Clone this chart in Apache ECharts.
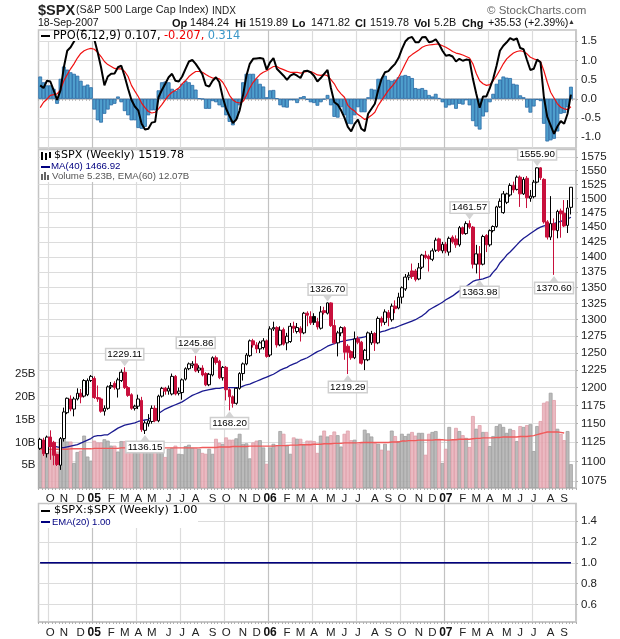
<!DOCTYPE html>
<html><head><meta charset="utf-8">
<style>html,body{margin:0;padding:0;background:#fff}#c{width:620px;height:639px}</style>
<script src="https://cdn.jsdelivr.net/npm/echarts@6/dist/echarts.min.js"></script>
</head><body><div id="c"></div>
<script>
// Weekly candles: [open, close, low, high]
const candles=[
[1117,1129,1115,1131],[1128,1110,1107,1131],[1110,1132,1105,1134],[1132,1119,1102,1141],[1125,1108,1095,1127],[1109,1096,1094,1110],[1095,1130,1089,1132],[1130,1166,1126,1172],[1165,1185,1163,1186],[1184,1170,1167,1189],
[1170,1184,1160,1187],[1184,1192,1182,1199],[1192,1187,1178,1198],[1188,1210,1186,1212],[1190,1210,1188,1213],[1210,1216,1208,1218],[1213,1186,1184,1216],[1186,1184,1180,1203],[1184,1167,1165,1186],[1167,1171,1161,1175],
[1171,1201,1169,1203],[1201,1203,1198,1208],[1206,1200,1197,1209],[1198,1211,1186,1214],[1210,1222,1208,1226],[1222,1200,1198,1229.11],[1200,1189,1187,1202],[1190,1171,1169,1192],[1171,1174,1168,1176],[1174,1184,1170,1190],
[1182,1142,1139,1187],[1141,1151,1136.15,1154],[1150,1154,1146,1163],[1153,1171,1150,1175],[1171,1154,1152,1175],[1154,1188,1152,1190],[1188,1199,1186,1201],[1199,1195,1190,1201],[1195,1199,1190,1203],[1191,1216,1189,1220],
[1216,1191,1189,1218],[1192,1195,1189,1200],[1193,1211,1183,1213],[1212,1227,1210,1229],[1227,1234,1225,1236],[1232,1234,1228,1238],[1234,1224,1222,1245.86],[1225,1228,1221,1232],[1228,1218,1216,1232],[1220,1204,1202,1222],
[1204,1219,1202,1221],[1218,1243,1216,1245],[1243,1236,1233,1246],[1238,1214,1212,1240],[1214,1229,1210,1231],[1229,1197,1182,1231],[1197,1187,1168.2,1199],[1187,1178,1172,1189],[1178,1199,1176,1200],[1199,1220,1197,1222],
[1220,1234,1210,1236],[1234,1247,1232,1250],[1246,1268,1244,1270],[1268,1262,1258,1271],[1262,1256,1250,1266],[1256,1265,1250,1268],[1258,1268,1255,1272],[1268,1245,1243,1270],[1247,1286,1244,1290],[1286,1288,1283,1297],
[1288,1262,1258,1290],[1262,1284,1260,1290],[1285,1263,1261,1288],[1265,1275,1254,1280],[1267,1290,1265,1295],[1290,1287,1280,1297],[1282,1288,1279,1295],[1287,1280,1267,1290],[1280,1310,1278,1312],[1310,1307,1290,1313],
[1305,1295,1292,1313],[1305,1296,1292,1310],[1297,1289,1285,1303],[1287,1312,1285,1321],[1314,1311,1308,1320],[1310,1326,1308,1326.7],[1326,1291,1289,1327],[1291,1265,1263,1300],[1265,1280,1245,1283],[1280,1288,1275,1290],
[1288,1251,1240,1290],[1260,1251,1219.29,1263],[1252,1243,1240,1254],[1243,1271,1241,1282],[1271,1266,1263,1275],[1266,1235,1233,1268],[1240,1254,1225,1256],[1240,1280,1238,1282],[1265,1279,1262,1283],[1279,1265,1253,1281],
[1265,1302,1263,1305],[1302,1296,1290,1305],[1296,1312,1292,1316],[1311,1303,1290,1315],[1300,1321,1297,1325],[1321,1317,1310,1330],[1318,1335,1316,1342],[1335,1350,1325,1352],[1348,1367,1345,1372],[1367,1370,1362,1375],
[1377,1368,1364,1389],[1377,1363,1360,1380],[1364,1382,1362,1390],[1383,1403,1380,1405],[1403,1399,1396,1410],[1401,1397,1376,1404],[1396,1410,1393,1414],[1411,1428,1408,1432],[1430,1411,1408,1432],[1410,1421,1406,1425],
[1421,1410,1406,1425],[1408,1431,1402,1434],[1433,1425,1422,1436],[1430,1420,1415,1436],[1420,1449,1417,1452],[1449,1439,1437,1451],[1439,1456,1437,1460],[1456,1450,1447,1461.57],[1450,1388,1381,1452],[1388,1405,1373,1420],
[1405,1388,1363.98,1418],[1388,1434,1386,1437],[1436,1420,1408,1438],[1420,1444,1417,1446],[1444,1451,1441,1453],[1451,1485,1449,1487],[1485,1495,1483,1500],[1475,1508,1473,1513],[1493,1508,1490,1510],[1506,1523,1503,1527],
[1523,1515,1510,1530],[1516,1538,1514,1541],[1538,1508,1485,1541],[1508,1534,1506,1538],[1536,1501,1483,1540],[1500,1504,1494,1515],[1503,1529,1500,1533],[1529,1555,1527,1555.9],[1555,1537,1533,1556],[1534,1459,1456,1536],
[1459,1433,1429,1462],[1433,1456,1428,1504],[1456,1445,1370.6,1465],[1444,1477,1431,1480],[1478,1473,1432,1482],[1474,1452,1450,1497],[1453,1483,1440,1497],[1484.24,1519.78,1471.82,1519.89]];
const filledBlack=[81];
// Volume in billions of shares
const volume=[10.4,9.3,8.2,8.6,7.9,8,10.8,10.8,10.2,10.2,5.5,7.9,8.2,11.5,6.9,6,10.4,10,10,10.7,10.4,9.3,9.3,8,10.3,10.3,10.2,8.4,7.8,8.3,9.8,9.5,9.5,9.2,9.6,9.2,8.2,6.8,8.6,8.8,9.3,7.5,7.4,9.2,9.5,8.8,8.8,8.6,
7.7,7.5,8.6,7.5,10.8,9.9,9.7,11.1,10.6,10.6,10.9,11.9,9.7,9.8,6.5,10,10.4,10.5,8.9,5.3,8.9,9.7,9.3,12.5,11.9,9.5,7.5,11.1,10.8,10.8,9.7,10.4,10.4,10.3,7.7,11.5,12.6,11.3,11.6,12.4,11.6,9.1,11.9,12.6,10.5,10.6,9.7,9.9,12.8,12,11.3,9.9,9.7,8.4,9.7,8.2,12.6,11.4,10.3,
11.9,11.4,11.9,12.3,11.5,12.1,12.1,7.3,11.9,12.3,12.5,10.8,5.5,8.6,13.4,10.6,13.2,12.5,11.6,11,9,15.8,13,13.8,12.3,12.3,9.2,11.4,13.6,14,13.4,12.1,13,12.7,10.3,13.6,13.4,13.8,14,8.1,13.6,14.7,18.7,19,20.9,19.3,13,11.9,10.5,12.5,5.23];
const volumeEma=[8.5,8.5,8.5,8.5,8.5,8.5,8.5,8.5,8.5,8.6,8.6,8.6,8.6,8.6,8.6,8.6,8.7,8.7,8.7,8.7,8.7,8.7,8.7,8.7,8.8,8.8,8.8,8.8,8.8,8.8,8.8,8.8,8.8,8.8,8.8,8.8,8.8,8.8,8.8,8.8,8.8,8.8,8.8,8.8,8.8,8.8,8.8,8.8,8.9,8.9,8.9,8.9,8.9,9,9,9,9,9.1,9.1,9.1,9.1,9.1,9.2,9.2,9.2,9.2,9.2,9.2,9.2,9.2,9.3,9.3,9.3,9.3,9.4,9.4,9.4,9.5,9.5,9.5,9.5,9.6,9.6,9.6,9.7,9.7,9.7,9.8,9.8,9.8,9.9,9.9,9.9,9.9,9.9,10,10,10,10,10,10,10,10,10,10.1,10.1,10.1,10.3,10.3,10.4,10.4,10.4,10.5,10.5,10.5,10.5,10.5,10.6,10.6,10.6,10.5,10.5,10.6,10.6,10.7,10.7,10.7,10.7,10.8,10.9,10.9,11,11,11,11,11.1,11.1,11.2,11.2,11.2,11.2,11.2,11.3,11.3,11.3,11.4,11.5,11.7,11.9,12.1,12.3,12.3,12.3,12.3,12.2,12.07];
const ma40=[1119,1119,1120,1120,1120,1119,1118,1118,1119,1120,1121,1122,1124,1126,1128,1130,1133,1134,1134,1135,1135,1138,1141,1144,1146,1148,1149,1150,1151,1153,1154,1155,1156,1159,1161,1164,1167,1170,1172,1174,1176,1178,1180,1183,1186,1189,1191,1193,1195,1196,1197,1198,1199,1199,1200,1200,1200,1200,1200,1200,1202,1204,1205,1207,1209,1211,1213,1215,1217,1219,1222,1225,1227,1229,1232,1234,1236,1239,1241,1243,1246,1249,1252,1254,1257,1260,1262,1264,1266,1267,1268,1269,1270,1271,1272,1273,1274,1276,1277,1278,1280,1282,1283,1285,1287,1288,1290,
1292,1294,1296,1298,1300,1303,1306,1310,1315,1318,1321,1324,1327,1331,1334,1337,1341,1345,1349,1352,1356,1360,1362,1363,1364,1366,1368,1375,1381,1390,1396,1403,1408,1414,1420,1426,1431,1435,1439,1443,1447,1450,1452,1453,1454,1456,1458,1460,1462,1464,1466.92];
// PPO panel
const ppo=[.35,.28,.47,.45,.22,-.03,.22,.82,1.25,1.34,1.49,1.64,1.75,1.78,1.73,1.77,1.55,1.21,.82,.35,.58,.65,.66,.82,.86,.58,.26,-.03,-.2,-.3,-.65,-.8,-.78,-.62,-.6,.04,.23,.39,.56,.65,.47,.45,.58,.78,.97,1.01,.91,.78,.63,.35,.32,.47,.56,.43,.04,-.26,-.45,-.63,-.54,-.3,.09,.6,.91,1.04,1.05,1.06,1.04,.76,.95,1.06,.78,.69,.6,.49,.6,.65,.6,.54,.72,.73,
.69,.6,.45,.54,.65,.75,.28,-.09,-.15,-.3,-.49,-.73,-.85,-.65,-.54,-.78,-.84,-.39,-.26,-.13,.23,.52,.69,.72,.82,.91,1.06,1.29,1.49,1.58,1.61,1.47,1.47,1.6,1.61,1.47,1.49,1.55,1.42,1.25,1.12,1.14,1.1,.97,1.04,.99,1.02,1.01,.52,.13,-.23,.06,.06,.28,.52,.86,1.25,1.38,1.47,1.58,1.53,1.57,1.32,1.29,1.01,.75,.78,1.02,.95,.04,-.47,-.69,-.91,-.72,-.58,-.65,-.39,.107];
const ppoSignal=[-.23,-.09,-.01,.09,.11,.13,.23,.47,.63,.78,.91,1.06,1.18,1.25,1.29,1.31,1.29,1.21,1.1,.97,.89,.84,.79,.78,.78,.71,.58,.35,.2,.06,-.11,-.23,-.33,-.37,-.35,-.26,-.15,-.03,.09,.17,.22,.28,.39,.47,.58,.65,.71,.71,.69,.63,.58,.54,.54,.52,.43,.28,.09,-.03,-.09,-.11,-.07,.09,.28,.43,.54,.63,.69,.73,.79,.84,.84,.79,.76,.72,.69,.69,.69,.67,.69,.71,
.71,.67,.62,.61,.63,.6,.5,.39,.23,.13,.04,-.17,-.26,-.32,-.41,-.47,-.54,-.49,-.43,-.35,-.17,-.04,.09,.22,.32,.43,.56,.73,.91,1.08,1.15,1.21,1.27,1.34,1.38,1.4,1.41,1.42,1.42,1.38,1.34,1.29,1.23,1.19,1.17,1.14,1.1,1.06,.91,.66,.47,.39,.35,.37,.47,.6,.75,.91,1.04,1.12,1.19,1.23,1.25,1.23,1.17,1.08,1.04,1.01,.97,.73,.43,.17,.02,-.13,-.22,-.26,-.28,-.207];
const ppoHist=[.58,.43,.35,.35,.26,-.13,.52,.84,.76,.69,.65,.6,.47,.34,.37,.3,-.28,-.56,-.62,-.39,-.28,-.17,-.13,.06,-.09,-.32,-.43,-.56,-.56,-.76,-.78,-.73,-.43,-.3,-.3,.22,.43,.45,.43,.26,.2,.26,.39,.47,.43,.36,.24,.01,-.01,-.26,-.26,-.06,-.09,-.17,-.22,-.43,-.6,-.69,-.52,-.17,.43,.65,.65,.65,.52,.39,.32,.04,.22,.23,.01,-.17,-.22,-.23,-.04,-.04,-.11,.04,.07,-.03,
-.09,-.11,-.18,-.09,-.02,.1,-.17,-.47,-.49,-.22,-.43,-.65,-.66,-.43,-.22,-.35,-.35,.04,.26,.24,.52,.52,.6,.49,.47,.5,.56,.6,.62,.59,.54,.28,.26,.28,.23,.1,.06,.13,.02,-.09,-.23,-.17,-.15,-.26,-.13,-.15,-.04,-.17,-.58,-.72,-.8,-.46,-.35,-.09,.13,.39,.5,.58,.55,.54,.39,.37,.09,.04,-.23,-.36,-.2,-.03,-.06,-.65,-1.11,-1.08,-1.04,-.85,-.39,-.37,-.22,.314];
// Ratio panel: the index against itself, and its EMA
const ratio=[1,1,1,1,1,1,1,1,1,1,1,1,1,1,1,1,1,1,1,1,1,1,1,1,1,1,1,1,1,1,1,1,1,1,1,1,1,1,1,1,1,1,1,1,1,1,1,1,1,1,1,1,1,1,1,1,1,1,1,1,1,1,1,1,1,1,1,1,1,1,1,1,1,1,1,1,1,1,1,1,1,1,1,1,1,1,1,1,1,1,1,1,1,1,1,1,1,1,1,1,1,1,1,1,1,1,1,1,1,1,1,1,1,1,1,1,1,1,1,1,1,1,1,1,1,1,1,1,1,1,1,1,1,1,1,1,1,1,1,1,1,1,1,1,1,1,1,1,1,1,1,1,1,1,1,1,1,1];
// Axes
const tickIndex=[3,7,12,16,21,25,29,33,38,42,46,51,55,60,64,68,73,77,81,86,90,94,99,103,107,112,116,120,125,129,133,138,142,146,151,155];
const tickText=['O','N','D','05','F','M','A','M','J','J','A','S','O','N','D','06','F','M','A','M','J','J','A','S','O','N','D','07','F','M','A','M','J','J','A','S'];
const gridIndex=[3,16,29,42,55,68,81,94,107,120,133,146];
const gridColors=['#dcdcdc','#c2c2c2','#dcdcdc','#dcdcdc','#dcdcdc','#c2c2c2','#dcdcdc','#dcdcdc','#dcdcdc','#c2c2c2','#dcdcdc','#dcdcdc'];
const priceTicks=[1075,1100,1125,1150,1175,1200,1225,1250,1275,1300,1325,1350,1375,1400,1425,1450,1475,1500,1525,1550,1575];
const volumeTicks=[5,10,15,20,25];
const ppoTicks=[-1,-.5,0,.5,1,1.5];
const ratioTicks=[.6,.8,1,1.2,1.4];
// peak / trough call-outs: [candle index, price, text, side]
const callouts=[[25,1229.11,'1229.11','top'],[46,1245.86,'1245.86','top'],[85,1326.7,'1326.70','top'],[127,1461.57,'1461.57','top'],[147,1555.9,'1555.90','top'],
[31,1136.15,'1136.15','bottom'],[56,1168.2,'1168.20','bottom'],[91,1219.29,'1219.29','bottom'],[130,1363.98,'1363.98','bottom'],[152,1370.6,'1370.60','bottom']];
const quote=[['Op',172,1],['1484.24',190,0],['Hi',235,1],['1519.89',249,0],['Lo',292,1],['1471.82',311,0],['Cl',355,1],['1519.78',370,0],['Vol',414,1],['5.2B',434,0],['Chg',462,1],['+35.53 (+2.39%)',488,0]];

const categories=[];
for(let i=0;i<159;i++){const k=tickIndex.indexOf(i);categories.push(k>=0?tickText[k]:'');}
const sans='"Liberation Sans",Arial,sans-serif', deja='"DejaVu Sans",Verdana,sans-serif';
const axisGrey='#c4c4c4', hLine='#dcdcdc';
const panels=[{top:30,height:118},{top:149.5,height:338.5},{top:503.5,height:118.5}];
const grid=panels.map(p=>({left:38.5,right:44,top:p.top,height:p.height,show:true,borderColor:axisGrey,borderWidth:1.5,backgroundColor:'#fff'}));
function xAxis(gi,labels){return {type:'category',gridIndex:gi,data:categories,boundaryGap:true,
 axisLine:{show:true,lineStyle:{color:axisGrey,width:1.5}},
 axisTick:{show:true,length:2,interval:0,lineStyle:{color:'#b0b0b0',width:1}},
 splitLine:{show:true,interval:i=>gridIndex.includes(i),lineStyle:{color:gridColors,width:1.2}},
 axisLabel:{show:labels,interval:(i,v)=>v!=='',margin:5,fontFamily:sans,fontSize:11.5,color:'#222',hideOverlap:false,
   formatter:v=>/\d/.test(v)?'{y|'+v+'}':v,rich:{y:{fontFamily:sans,fontSize:12,fontWeight:'bold',color:'#111'}}}};}
function rightAxis(gi,min,max,ticks,fmt,log){return {type:log?'log':'value',logBase:10,gridIndex:gi,position:'right',min,max,scale:true,
 axisLine:{show:true,lineStyle:{color:axisGrey,width:1.5}},
 axisTick:{show:true,length:2,customValues:ticks,lineStyle:{color:'#b0b0b0'}},
 axisLabel:{show:true,customValues:ticks,formatter:fmt,margin:5,fontFamily:sans,fontSize:11.5,color:'#222',hideOverlap:false,showMinLabel:true,showMaxLabel:true},
 splitLine:{show:true,customValues:ticks,lineStyle:{color:hLine,width:1.2}},minorSplitLine:{show:false}};}
const upFill='#ffffff',dnFill='#c8103c';
const candleData=candles.map((c,i)=>filledBlack.includes(i)?{value:c,itemStyle:{color0:'#000',borderColor0:'#000'}}:c);
const legendRect=(x,y,w,h,fill,z)=>({type:'rect',z:z||20,shape:{x,y,width:w,height:h},style:{fill:fill||'#fff'}});
const label=(text,x,y,font,fill)=>({type:'text',x,y,z:21,style:{text,font,fill:fill||'#111'}});
const option={animation:false,backgroundColor:'#fff',grid,
 xAxis:[xAxis(0,false),xAxis(1,true),xAxis(2,true)],
 yAxis:[rightAxis(0,-1.28,1.79,ppoTicks,v=>(+v).toFixed(1)),
  rightAxis(1,1066,1589,priceTicks,v=>String(Math.round(v)),true),
  {type:'value',gridIndex:1,position:'left',min:0,max:74.3,axisLine:{show:false},axisTick:{show:false},splitLine:{show:false},
   axisLabel:{customValues:volumeTicks,formatter:v=>v+'B',margin:3,fontFamily:sans,fontSize:11.5,color:'#222',hideOverlap:false}},
  rightAxis(2,.435,1.565,ratioTicks,v=>(+v).toFixed(1))],
 series:[
 {type:'bar',xAxisIndex:0,yAxisIndex:0,data:ppoHist,barWidth:3.8,z:2,itemStyle:{color:'#4f9fcd',borderColor:'#2a6aa6',borderWidth:.8}},
 {type:'line',xAxisIndex:0,yAxisIndex:0,data:ppoSignal,showSymbol:false,z:3,lineStyle:{color:'#f01010',width:1.2}},
 {type:'line',xAxisIndex:0,yAxisIndex:0,data:ppo,showSymbol:false,z:4,lineStyle:{color:'#000',width:2}},
 {type:'bar',xAxisIndex:1,yAxisIndex:2,data:volume.map((v,i)=>({value:v,itemStyle:candles[i][1]<candles[i][0]?{color:'rgba(232,176,186,.88)',borderColor:'#e0a0aa'}:{color:'rgba(178,178,178,.88)',borderColor:'#a0a0a0'}})),barWidth:3.8,z:2,itemStyle:{borderWidth:.8}},
 {type:'line',xAxisIndex:1,yAxisIndex:2,data:volumeEma,showSymbol:false,z:3,lineStyle:{color:'#f05a5a',width:1.4}},
 {type:'line',xAxisIndex:1,yAxisIndex:1,data:ma40,showSymbol:false,z:4,lineStyle:{color:'#1a1a90',width:1.3}},
 {type:'candlestick',xAxisIndex:1,yAxisIndex:1,data:candleData,barWidth:3.2,z:5,
  itemStyle:{color:upFill,color0:dnFill,borderColor:'#000',borderColor0:dnFill,borderWidth:1},
  markPoint:{silent:true,animation:false,z:7,data:callouts.map(c=>({coord:[c[0],c[1]],symbol:'triangle',symbolSize:[9,6],symbolRotate:c[3]==='top'?180:0,
    symbolOffset:[0,c[3]==='top'?-4:4],itemStyle:{color:'#d4d4d4'},
    label:{show:true,formatter:c[2],position:c[3],distance:1,color:'#000',fontFamily:sans,fontSize:9.8,lineHeight:10,backgroundColor:'#fff',borderColor:'#cfcfcf',borderWidth:1.5,padding:[0,1,0,1]}}))}},
 {type:'line',xAxisIndex:2,yAxisIndex:3,data:ratio,showSymbol:false,z:3,lineStyle:{color:'#000',width:1}},
 {type:'line',xAxisIndex:2,yAxisIndex:3,data:ratio,showSymbol:false,z:4,lineStyle:{color:'#000080',width:1.3}}
 ],
 graphic:{elements:[
  label('$SPX',38,3,'bold 14.5px '+sans,'#222'),
  label('(S&P 500 Large Cap Index)',76,5,'10.8px '+sans,'#222'),
  label('INDX',212,6,'10px '+sans,'#222'),
  label('© StockCharts.com',487,5,'11.5px '+sans,'#666'),
  label('18-Sep-2007',38,18,'10.5px '+sans),
  ...quote.map(q=>label(q[0],q[1],18,(q[2]?'bold 11px ':'10.8px ')+sans)),
  label('▲',568,19,'7px '+sans,'#333'),
  legendRect(40,31,204,10,'#fff',19),
  legendRect(41,35,9,2,'#000'),
  {type:'text',x:53,y:30,z:21,style:{rich:{k:{font:'11.4px '+deja,fill:'#000'},r:{font:'11.4px '+deja,fill:'#f00000'},b:{font:'11.4px '+deja,fill:'#3a97c8'}},text:'{k|PPO(6,12,9) 0.107,} {r|-0.207,} {b|0.314}'}},
  legendRect(40,151,150,31,'#fff',19),
  legendRect(41,152,2,8,'#000'),legendRect(45,153,2,7,'#000'),legendRect(49,152,2,6,'#000'),
  label('$SPX (Weekly) 1519.78',54,150,'11.1px '+deja,'#000'),
  legendRect(41,166,9,2,'#000080'),
  label('MA(40) 1466.92',51,161,'9.7px '+sans,'#000080'),
  legendRect(41,174,2,6,'#666'),legendRect(44,172,2,8,'#666'),legendRect(47,175,2,5,'#666'),
  label('Volume 5.23B, EMA(60) 12.07B',52,171,'9.7px '+sans,'#555'),
  legendRect(40,505,158,23,'#fff',19),
  legendRect(41,510,9,2,'#000'),
  label('$SPX:$SPX (Weekly) 1.00',54,505,'11.3px '+deja,'#000'),
  legendRect(41,521,9,2,'#000080'),
  label('EMA(20) 1.00',52,517,'9.5px '+sans,'#000080')
 ]}
};
echarts.init(document.getElementById('c')).setOption(option);
</script></body></html>
